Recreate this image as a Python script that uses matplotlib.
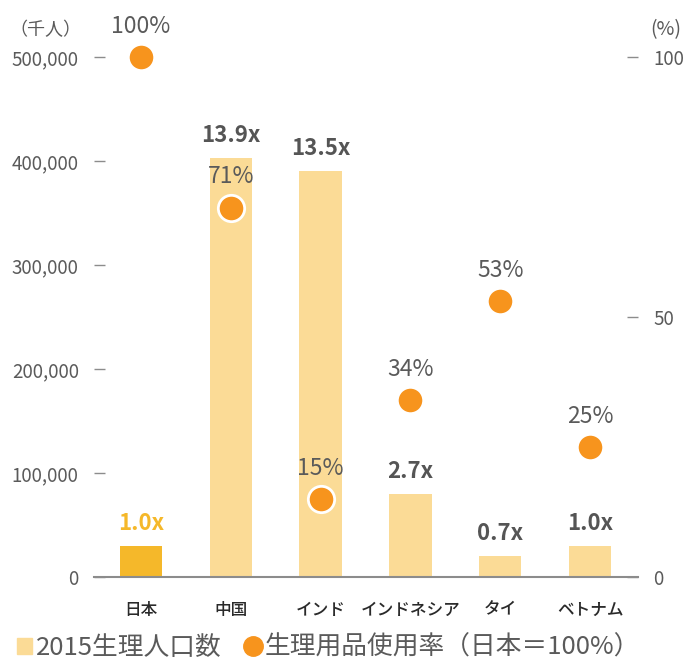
import matplotlib
matplotlib.use("Agg")
import matplotlib.pyplot as plt
from matplotlib.patches import Patch
from matplotlib.lines import Line2D

plt.rcParams['font.family'] = ['Noto Sans CJK JP', 'DejaVu Sans']

categories = ["日本", "中国", "インド", "インドネシア", "タイ", "ベトナム"]
population = [30000, 403000, 390000, 80000, 20000, 30000]
multipliers = ["1.0x", "13.9x", "13.5x", "2.7x", "0.7x", "1.0x"]
usage_rate = [100, 71, 15, 34, 53, 25]
left_ticks = [0, 100000, 200000, 300000, 400000, 500000]
left_ticklabels = ["0", "100,000", "200,000", "300,000", "400,000", "500,000"]
right_ticks = [0, 50, 100]

bar_light = "#FBDB96"
bar_dark = "#F5B82A"
dot_color = "#F7941D"
text_gray = "#5A5A5A"
axis_gray = "#8C8C8C"

fig = plt.figure(figsize=(6.91, 6.64), dpi=100)
ax = fig.add_axes([94/691, 1-577/664, (638-94)/691, (577-57)/664])
ax2 = ax.twinx()

x = list(range(len(categories)))
colors = [bar_dark] + [bar_light]*(len(categories)-1)
ax.bar(x, population, width=0.47, color=colors, zorder=1)
ax.set_xlim(-0.522, 5.533)
ax.set_ylim(0, 500000)
ax2.set_ylim(0, 100)

for s in ["top", "right", "left"]:
    ax.spines[s].set_visible(False)
    ax2.spines[s].set_visible(False)
ax2.spines["bottom"].set_visible(False)
ax.spines["bottom"].set_color(axis_gray)
ax.spines["bottom"].set_linewidth(1.5)

ax.set_yticks(left_ticks)
ax.set_yticklabels(left_ticklabels)
ax.tick_params(axis='y', direction='in', length=8, width=1, color=axis_gray,
               labelsize=13.5, labelcolor=text_gray, pad=11)
ax2.set_yticks(right_ticks)
ax2.tick_params(axis='y', direction='in', length=8, width=1, color=axis_gray,
                labelsize=13.5, labelcolor=text_gray, pad=11)
ax.set_xticks(x)
ax.set_xticklabels(categories, fontsize=12, fontweight='medium', color="#2A2A2A")
ax.tick_params(axis='x', length=0, pad=17)

# multiplier labels
for i, (v, m) in enumerate(zip(population, multipliers)):
    c = bar_dark if i == 0 else "#555555"
    ax.annotate(m, (i, v), xytext=(0, 8), textcoords='offset points',
                ha='center', va='bottom', fontsize=16, fontweight='bold',
                color=c, zorder=5, annotation_clip=False)

ax2.scatter(x, usage_rate, s=360, color=dot_color, edgecolor='white',
            linewidth=2, zorder=4, clip_on=False)
ax2.set_zorder(ax.get_zorder() + 1)
ax2.patch.set_visible(False)
for i, r in enumerate(usage_rate):
    ax2.annotate(f"{r}%", (i, r), xytext=(0, 14), textcoords='offset points',
                 ha='center', va='bottom', fontsize=16.5, color=text_gray,
                 annotation_clip=False)

fig.text(45/691, 1-30/664, "（千人）", ha='center', va='center', fontsize=13, color=text_gray)
fig.text(666/691, 1-30/664, "(%)", ha='center', va='center', fontsize=14, color=text_gray)

handles = [Patch(color=bar_light, label="2015生理人口数"),
           Line2D([], [], marker='o', linestyle='none', markersize=14,
                  color=dot_color, label="生理用品使用率（日本＝100%）")]
fig.legend(handles=handles, loc='center left', bbox_to_anchor=(17/691, 1-648/664),
           ncol=2, frameon=False, fontsize=18.5, handlelength=0.6,
           handleheight=0.6, handletextpad=0.15, columnspacing=0.9,
           labelcolor=text_gray, borderaxespad=0, borderpad=0)

fig.savefig("out.png", dpi=100)
